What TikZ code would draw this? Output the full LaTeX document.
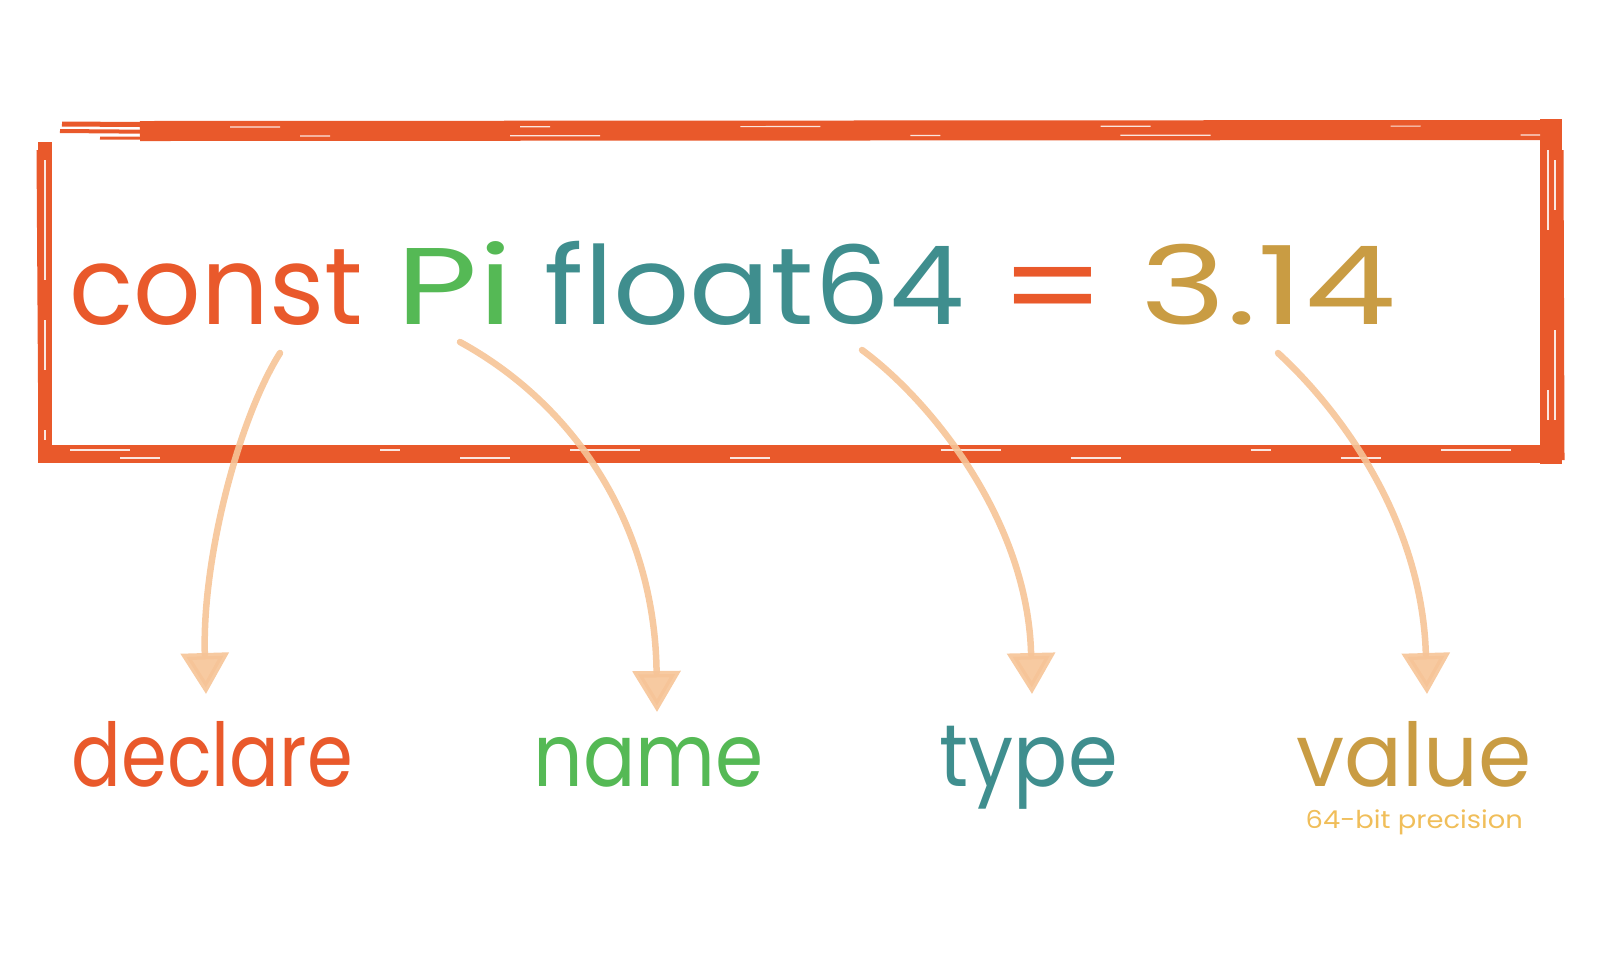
\documentclass[tikz,border=0pt]{standalone}
\usepackage{fontspec}
\setmainfont{Poppins}
\usepackage{graphicx}
\usetikzlibrary{arrows.meta}
\definecolor{cOrange}{HTML}{E9592B}
\definecolor{cGreen}{HTML}{55B955}
\definecolor{cTeal}{HTML}{3F8E8E}
\definecolor{cGold}{HTML}{C99C43}
\definecolor{cLight}{HTML}{F0BE5A}
\definecolor{cPeach}{HTML}{F6C497}
\newcommand{\fitw}[2]{\resizebox{#1}{\height}{#2}}
\begin{document}
\begin{tikzpicture}[x=0.01cm,y=-0.01cm,
  word/.style={inner sep=0pt, anchor=base west},
  bigtxt/.style={font=\fontsize{31}{31}\selectfont},
  midtxt/.style={font=\fontsize{25}{25}\selectfont},
  smalltxt/.style={font=\fontsize{7}{7}\selectfont},
  edge/.style={draw=cOrange, line cap=rect},
  streak/.style={draw=white, line width=0.012cm, opacity=0.85},
  arr/.style={draw=cPeach, line width=0.065cm, line cap=round, opacity=0.9,
    -{Triangle[width=0.47cm,length=0.41cm,fill=cPeach]}}]
\useasboundingbox (0,0) rectangle (1600,960);
% brush box
\draw[edge, line width=0.2cm] (150,131) -- (1549,130);
\draw[edge, line width=0.22cm] (1551,130) -- (1551,453);
\draw[edge, line width=0.18cm] (1551,454) -- (47,454);
\draw[edge, line width=0.13cm] (45,454) -- (45,148);
\draw[draw=cOrange, line width=0.05cm] (62,124) -- (220,125);
\draw[draw=cOrange, line width=0.04cm] (60,131) -- (180,132);
\draw[draw=cOrange, line width=0.03cm] (100,138) -- (300,139);
\draw[draw=cOrange, line width=0.03cm] (38,150) -- (40,460);
\draw[draw=cOrange, line width=0.03cm] (1562,150) -- (1563,460);
% streak texture
\draw[streak, dash pattern=on 0.5cm off 2.4cm on 0.3cm off 1.9cm on 0.8cm off 2.8cm] (230,127) -- (1540,126);
\draw[streak, dash pattern=on 0.3cm off 1.8cm on 0.9cm off 3.1cm] (300,136) -- (1540,135);
\draw[streak, dash pattern=on 0.6cm off 2.5cm on 0.2cm off 1.7cm on 0.7cm off 3.0cm] (70,450) -- (1540,450);
\draw[streak, dash pattern=on 0.4cm off 3.0cm on 0.5cm off 2.2cm] (120,458) -- (1540,458);
\draw[streak, dash pattern=on 1.2cm off 0.4cm on 0.5cm off 0.6cm] (45,160) -- (45,440);
\draw[streak, dash pattern=on 0.8cm off 1.6cm on 0.3cm off 1.4cm] (1548,150) -- (1548,440);
\draw[streak, dash pattern=on 0.5cm off 1.2cm on 0.9cm off 1.5cm] (1555,160) -- (1555,445);
% main line
\node[word, bigtxt, text=cOrange] (const) at (69,324) {\fitw{2.93cm}{const}};
\node[word, bigtxt, text=cGreen] (pi) at (396,324) {\fitw{1.16cm}{Pi}};
\node[word, bigtxt, text=cTeal] (float) at (544,324) {\fitw{4.20cm}{float64}};
\node[inner sep=0pt, text=cOrange, bigtxt, anchor=base] (eq) at (1053,331) {\resizebox{1.07cm}{0.64cm}{=}};
\node[word, bigtxt, text=cGold] (num) at (1140,324) {\fitw{2.55cm}{3.14}};
% labels
\node[word, midtxt, text=cOrange] (declare) at (71,786) {\fitw{2.81cm}{declare}};
\node[word, midtxt, text=cGreen] (name) at (533,786) {\fitw{2.30cm}{name}};
\node[word, midtxt, text=cTeal] (type) at (939,786) {\fitw{1.78cm}{type}};
\node[word, midtxt, text=cGold] (value) at (1296,786) {\fitw{2.35cm}{value}};
\node[word, smalltxt, text=cLight] (prec) at (1305,828) {\fitw{2.17cm}{64-bit precision}};
% arrows
\coordinate (s1) at (280,353);
\coordinate (e1) at (206,694);
\coordinate (s2) at (460,342);
\coordinate (e2) at (657,712);
\coordinate (s3) at (862,350);
\coordinate (e3) at (1032,694);
\coordinate (s4) at (1278,353);
\coordinate (e4) at (1427,694);
\draw[arr] (s1) .. controls (238,420) and (202,560) .. (e1);
\draw[arr] (s2) .. controls (575,405) and (655,525) .. (e2);
\draw[arr] (s3) .. controls (930,400) and (1028,520) .. (e3);
\draw[arr] (s4) .. controls (1340,410) and (1422,520) .. (e4);
\end{tikzpicture}
\end{document}
